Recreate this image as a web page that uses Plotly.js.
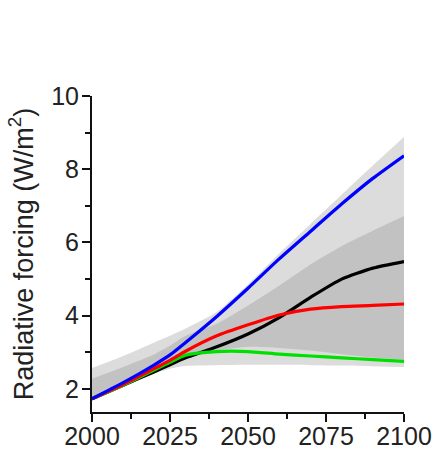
<!DOCTYPE html>
<html>
<head>
<meta charset="utf-8">
<script src="https://cdn.plot.ly/plotly-3.0.1.min.js"></script>
<style>html,body{margin:0;padding:0;background:#fff;}#chart{width:435px;height:451px;}</style>
</head>
<body>
<div id="chart"></div>
<script>
const years = [2000, 2010, 2020, 2025, 2030, 2040, 2050, 2060, 2070, 2080, 2090, 2100];
const lightUpper = [2.57, 2.9, 3.27, 3.45, 3.65, 4.1, 4.85, 5.7, 6.5, 7.3, 8.1, 8.88];
const lightLower = [1.68, 2.05, 2.42, 2.55, 2.63, 2.65, 2.66, 2.66, 2.65, 2.64, 2.62, 2.6];
const darkUpper = [2.28, 2.6, 2.95, 3.18, 3.45, 3.78, 4.28, 4.82, 5.4, 5.9, 6.32, 6.72];
const darkLower = [1.72, 2.08, 2.45, 2.65, 2.85, 3.05, 3.15, 3.12, 3.05, 2.95, 2.86, 2.8];
const blackSeries = [1.73, 2.1, 2.47, 2.66, 2.85, 3.15, 3.5, 3.95, 4.5, 5.0, 5.3, 5.48];
const redSeries = [1.73, 2.12, 2.56, 2.78, 3.03, 3.45, 3.75, 4.02, 4.18, 4.25, 4.28, 4.32];
const greenSeries = [1.73, 2.1, 2.52, 2.73, 2.92, 3.02, 3.02, 2.95, 2.9, 2.85, 2.8, 2.75];
const blueSeries = [1.73, 2.17, 2.66, 2.93, 3.27, 3.98, 4.75, 5.55, 6.3, 7.05, 7.75, 8.37];
const xTicks = [2000, 2025, 2050, 2075, 2100];
const yTicks = [2, 4, 6, 8, 10];

function band(lo, hi, color) {
  return [
    {x: years, y: lo, mode: 'lines', line: {width: 0, shape: 'spline', smoothing: 0.6}, hoverinfo: 'skip', showlegend: false},
    {x: years, y: hi, mode: 'lines', fill: 'tonexty', fillcolor: color, line: {width: 0, shape: 'spline', smoothing: 0.6}, hoverinfo: 'skip', showlegend: false}
  ];
}
function line(y, color) {
  return {x: years, y: y, mode: 'lines', line: {color: color, width: 3.2, shape: 'spline', smoothing: 0.6}, showlegend: false};
}
const data = [].concat(
  band(lightLower, lightUpper, '#dcdcdc'),
  band(darkLower, darkUpper, '#c2c2c2'),
  [line(blackSeries, '#000000'), line(greenSeries, '#00e000'), line(redSeries, '#ff0000'), line(blueSeries, '#0000ff')]
);
const tickFont = {family: 'Arial, "Liberation Sans", sans-serif', size: 25, color: '#222'};
const titleFont = {family: 'Arial, "Liberation Sans", sans-serif', size: 27, color: '#222'};
const layout = {
  width: 435, height: 451,
  margin: {l: 92, r: 31, t: 96, b: 39},
  paper_bgcolor: '#fff', plot_bgcolor: '#fff',
  font: tickFont,
  showlegend: false,
  xaxis: {
    range: [2000, 2100], tickvals: xTicks, ticktext: xTicks.map(String),
    showline: true, linecolor: '#111', linewidth: 2, showgrid: false, zeroline: false,
    ticks: 'outside', ticklen: 8, tickwidth: 2, tickcolor: '#111',
    minor: {tickvals: [2012.5, 2037.5, 2062.5, 2087.5], ticks: 'outside', ticklen: 5, tickwidth: 2, tickcolor: '#111'},
    tickfont: tickFont, ticklabelstandoff: -7
  },
  yaxis: {
    range: [1.37, 10], tickvals: yTicks, ticktext: yTicks.map(String),
    showline: true, linecolor: '#111', linewidth: 2, showgrid: false, zeroline: false,
    ticks: 'outside', ticklen: 8, tickwidth: 2, tickcolor: '#111',
    minor: {tickvals: [3, 5, 7, 9], ticks: 'outside', ticklen: 5, tickwidth: 2, tickcolor: '#111'},
    tickfont: tickFont, ticklabelstandoff: -2,
    title: {text: 'Radiative forcing (W/m<sup>2</sup>)', font: titleFont, standoff: 10}
  }
};
Plotly.newPlot('chart', data, layout, {displayModeBar: false, staticPlot: true});
</script>
</body>
</html>
